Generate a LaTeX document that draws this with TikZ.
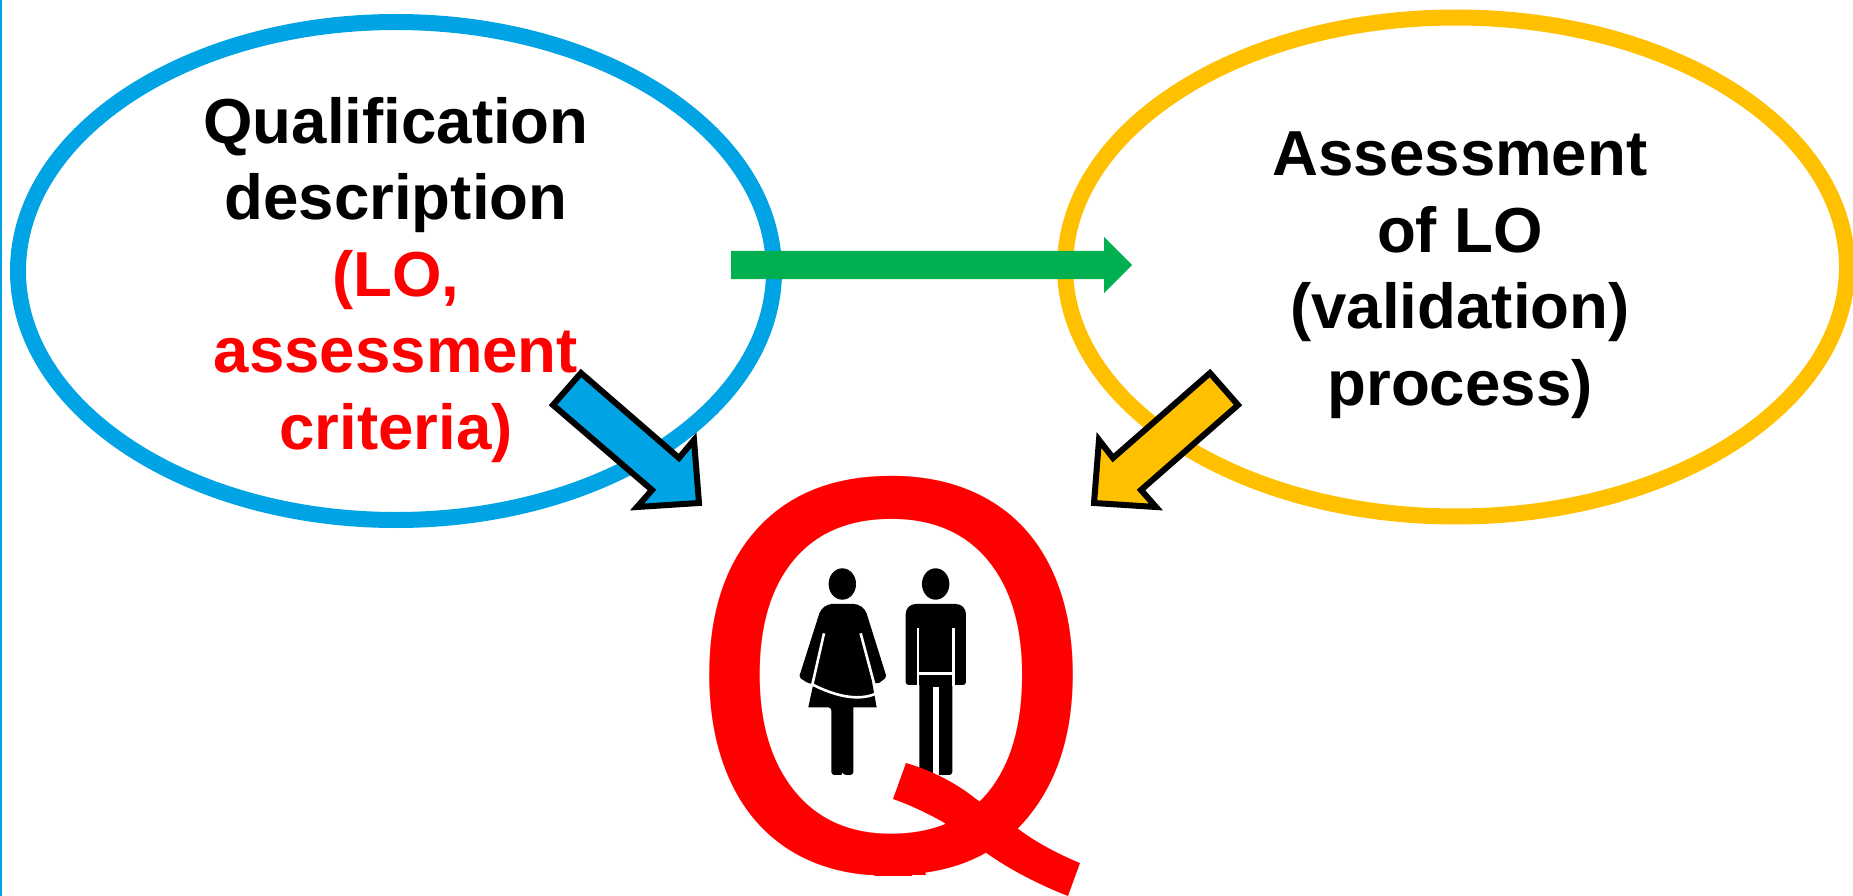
\documentclass[tikz,border=0pt]{standalone}
\usepackage{fontspec}
\setmainfont{Liberation Sans}
\usetikzlibrary{shapes.geometric}
\definecolor{bluec}{HTML}{00A3E3}
\definecolor{goldc}{HTML}{FFC000}
\definecolor{greenc}{HTML}{00B050}
\tikzset{
  ring/.style={ellipse,draw=#1,line width=16pt,fill=none,inner sep=0pt,outer sep=0pt},
  caption/.style={align=center,font=\fontsize{63.6}{76.5}\selectfont\bfseries,inner sep=0pt},
  blockarrow/.style={draw=black,line width=6pt,miter limit=10,fill=#1},
  gap/.style={draw=white,line width=2.6pt}
}
\begin{document}
\begin{tikzpicture}[x=1pt,y=-1pt]
\useasboundingbox (0,0) rectangle (1853,896);
\fill[white] (0,0) rectangle (1853,896);
\fill[bluec] (0,0) rectangle (1.5,896);
\node[ring=bluec,minimum width=756pt,minimum height=498pt] (qual) at (396,271) {};
\node[ring=goldc,minimum width=782pt,minimum height=499pt] (assess) at (1456,267) {};
\node[caption,anchor=base] (qualtext) at (396,449) {Qualification\\description\\\textcolor{red}{(LO,}\\\textcolor{red}{assessment}\\\textcolor{red}{criteria)}};
\node[caption,anchor=base] (asstext) at (1460,405) {Assessment\\of LO\\(validation)\\process)};
\fill[greenc] (731,251) -- (1104,251) -- (1104,237) -- (1132,265) -- (1104,293) -- (1104,279) -- (731,279) -- cycle;
\path[blockarrow=bluec] (581,373) -- (553,405) -- (652,490) -- (637,507) -- (699,503) -- (694,440) -- (679,458) -- cycle;
\path[blockarrow=goldc] (1210,373) -- (1238,405) -- (1141,490) -- (1156,507) -- (1094,503) -- (1099,440) -- (1113,458) -- cycle;
\begin{scope}[shift={(740,540)},x=0.3333pt,y=-0.3333pt]
 \fill (587,132) ellipse [x radius=13.7pt,y radius=15.7pt];
 \fill (307,132) ellipse [x radius=13.7pt,y radius=15.7pt];
 % man
 \fill[rounded corners=3pt] (497,435) [rounded corners=10pt] -- (497,192) -- (678,192) [rounded corners=3pt] -- (678,435) -- cycle;
 \fill[rounded corners=3pt] (538,395) -- (538,705) -- (637,705) -- (637,395) -- cycle;
 \draw[gap] (534,265) -- (534,437);
 \draw[gap] (641,265) -- (641,437);
 \draw[gap] (538,400) -- (637,400);
 \fill[white] (580,440) rectangle (597,720);
 % woman
 \fill (300,192) [rounded corners=10pt] -- (371,192) [rounded corners=2pt] -- (440,412) -- (413,432) -- (396,425) [sharp corners] -- (410,502) -- (340,502) [rounded corners=3pt] -- (340,705) -- (310,705) [sharp corners] -- (307,698) -- (304,705) [rounded corners=3pt] -- (274,705) -- (274,502) [sharp corners] -- (205,502) -- (220,432) [rounded corners=2pt] -- (205,430) -- (177,412) [rounded corners=10pt] -- (247,192) -- cycle;
 \draw[gap] (252,280) -- (217,434);
 \draw[gap] (362,280) -- (402,430);
 \draw[gap] (220,435) .. controls (280,465) and (350,485) .. (405,462);
\end{scope}
\begin{scope}
 \clip (687,460) -- (1097,460) -- (1097,760) .. controls (1097,830) and (1000,875.5) .. (892,875.5) .. controls (784,875.5) and (687,830) .. (687,760) -- cycle;
 \node[inner sep=0pt,text=red,font=\fontsize{566}{566}\selectfont,anchor=base,xscale=0.941] (q) at (892,871.5) {Q};
\end{scope}
\fill[red] (906,763) .. controls (930,770) and (955,782) .. (976,799) -- (1017,828) .. controls (1035,842) and (1060,855) .. (1080,863) -- (1068,896) .. controls (1040,885) and (1010,870) .. (985,852) -- (943,822) .. controls (925,812) and (910,805) .. (893,799) -- cycle;
\end{tikzpicture}
\end{document}
